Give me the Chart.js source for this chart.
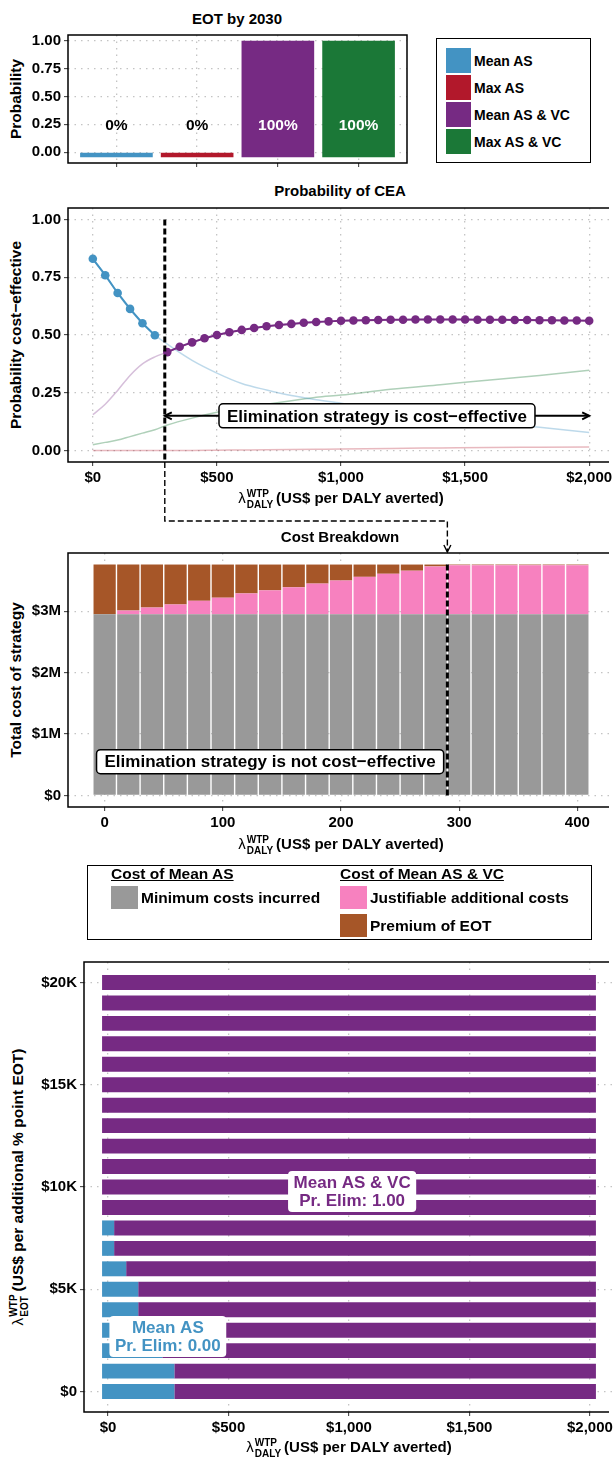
<!DOCTYPE html>
<html>
<head>
<meta charset="utf-8">
<title>EOT and CEA</title>
<script src="https://cdn.jsdelivr.net/npm/chart.js@4.4.1/dist/chart.umd.min.js"></script>
<style>
  html, body { margin: 0; padding: 0; background: #fff; overflow: hidden; }
  #page { position: relative; width: 613px; height: 1461px; overflow: hidden;
          font-family: 'Liberation Sans', Arial, sans-serif; font-weight: bold; color: #000; }
  #page canvas { position: absolute; left: 0; }
  #overlay { top: 0; pointer-events: none; z-index: 5; }
  .title { position: absolute; font-size: 15px; line-height: 18px; white-space: nowrap; transform: translate(-50%, -50%); }
  .ytitle { position: absolute; font-size: 15.5px; line-height: 18px; white-space: nowrap; transform: translate(-50%, -50%) rotate(-90deg); }
  .ss { display: inline-flex; flex-direction: column; font-size: 10px; line-height: 11px; vertical-align: middle; margin: 0 3px 0 1px; }
  .lam { font-weight: normal; }
  .box { position: absolute; border: 1.5px solid #000; box-sizing: border-box; }
  .sw { position: absolute; }
  .lg { position: absolute; white-space: nowrap; line-height: 18px; transform: translateY(-50%); }
  .u { text-decoration: underline; }
</style>
</head>
<body>
<div id="page">
  <div class="title" style="left:237px; top:19px">EOT by 2030</div>
  <div class="ytitle" style="left:16px; top:99px">Probability</div>
  <canvas id="eot-chart" width="420" height="175" style="top:0"></canvas>
  <div id="eot-legend"></div>

  <div class="title" style="left:340px; top:191px">Probability of CEA</div>
  <div class="ytitle" style="left:16px; top:335px">Probability cost−effective</div>
  <canvas id="cea-chart" width="640" height="345" style="top:175px"></canvas>
  <div class="title" style="left:341px; top:499px"><span class="lam">λ</span><span class="ss"><span>WTP</span><span>DALY</span></span>(US$ per DALY averted)</div>

  <div class="title" style="left:340px; top:537px">Cost Breakdown</div>
  <div class="ytitle" style="left:16px; top:680px">Total cost of strategy</div>
  <canvas id="cost-chart" width="640" height="340" style="top:520px"></canvas>
  <div class="title" style="left:341px; top:845px"><span class="lam">λ</span><span class="ss"><span>WTP</span><span>DALY</span></span>(US$ per DALY averted)</div>
  <div id="cost-legend"></div>

  <div class="ytitle" style="left:19px; top:1187px"><span class="lam">λ</span><span class="ss"><span>WTP</span><span>EOT</span></span>(US$ per additional % point EOT)</div>
  <canvas id="grid-chart" width="640" height="511" style="top:950px"></canvas>
  <div class="title" style="left:349px; top:1448px"><span class="lam">λ</span><span class="ss"><span>WTP</span><span>DALY</span></span>(US$ per DALY averted)</div>

  <canvas id="overlay" width="613" height="1461"></canvas>
</div>

<script>
// ---------- data ----------
const STRATEGIES = ['Mean AS', 'Max AS', 'Mean AS & VC', 'Max AS & VC'];
const STRATEGY_COLORS = ['#4393c3', '#b2182b', '#762a83', '#1b7837'];
const EOT_PROB = [0, 0, 1, 1];
const EOT_Y_TICKS = [0, 0.25, 0.5, 0.75, 1];
const EOT_Y_LABELS = ['0.00', '0.25', '0.50', '0.75', '1.00'];

// probability cost-effective, faint full curves
const CEA_WTP = [0, 50, 100, 150, 200, 250, 300, 400, 500, 600, 700, 800, 900, 1000, 1200, 1400, 1600, 1800, 2000];
const CEA_MEAN_AS = [0.83, 0.76, 0.68, 0.61, 0.55, 0.50, 0.46, 0.39, 0.335, 0.29, 0.262, 0.238, 0.22, 0.205, 0.17, 0.14, 0.12, 0.10, 0.078];
const CEA_MAX_AS = [0, 0, 0, 0, 0, 0, 0, 0, 0.001, 0.002, 0.003, 0.004, 0.005, 0.006, 0.009, 0.011, 0.013, 0.014, 0.015];
const CEA_MEAN_AS_VC = [0.155, 0.20, 0.26, 0.325, 0.375, 0.405, 0.426, 0.468, 0.50, 0.522, 0.538, 0.548, 0.556, 0.562, 0.566, 0.567, 0.566, 0.564, 0.562];
const CEA_MAX_AS_VC = [0.025, 0.035, 0.045, 0.06, 0.075, 0.09, 0.11, 0.14, 0.165, 0.185, 0.20, 0.215, 0.23, 0.24, 0.265, 0.285, 0.305, 0.325, 0.347];
// optimal strategy points
const OPT_AS_WTP = [0, 50, 100, 150, 200, 250];
const OPT_AS_PROB = [0.83, 0.759, 0.682, 0.613, 0.551, 0.499];
const OPT_VC_WTP = [300, 350, 400, 450, 500, 550, 600, 650, 700, 750, 800, 850, 900, 950, 1000, 1050, 1100, 1150,
  1200, 1250, 1300, 1350, 1400, 1450, 1500, 1550, 1600, 1650, 1700, 1750, 1800, 1850, 1900, 1950, 2000];
const OPT_VC_PROB = [0.426, 0.449, 0.468, 0.486, 0.500, 0.512, 0.522, 0.530, 0.538, 0.543, 0.548, 0.553, 0.556, 0.559,
  0.562, 0.563, 0.564, 0.565, 0.566, 0.566, 0.567, 0.567, 0.567, 0.567, 0.567, 0.566, 0.566, 0.566, 0.565, 0.565,
  0.564, 0.564, 0.563, 0.563, 0.562];
const WTP_TICKS = [0, 500, 1000, 1500, 2000];
const WTP_LABELS = ['$0', '$500', '$1,000', '$1,500', '$2,000'];
const PROB_TICKS = [0, 0.25, 0.5, 0.75, 1];
const PROB_LABELS = ['0.00', '0.25', '0.50', '0.75', '1.00'];
const THRESHOLD = 290;

// cost breakdown (US$ millions)
const COST_WTP = [0, 20, 40, 60, 80, 100, 120, 140, 160, 180, 200, 220, 240, 260, 280, 300, 320, 340, 360, 380, 400];
const COST_MINIMUM = [2.95, 2.95, 2.95, 2.95, 2.95, 2.95, 2.95, 2.95, 2.95, 2.95, 2.95, 2.95, 2.95, 2.95, 2.95, 2.95, 2.95, 2.95, 2.95, 2.95, 2.95];
const COST_JUSTIFIABLE = [0, 0.06, 0.11, 0.16, 0.22, 0.27, 0.34, 0.39, 0.44, 0.50, 0.55, 0.61, 0.66, 0.71, 0.78, 0.80, 0.80, 0.80, 0.80, 0.80, 0.80];
const COST_PREMIUM = [0.81, 0.75, 0.70, 0.65, 0.59, 0.54, 0.47, 0.42, 0.37, 0.31, 0.26, 0.20, 0.15, 0.10, 0.03, 0.01, 0.01, 0.01, 0.01, 0.01, 0.01];
const COST_X_TICKS = [0, 100, 200, 300, 400];
const COST_X_LABELS = ['0', '100', '200', '300', '400'];
const COST_Y_TICKS = [0, 1, 2, 3];
const COST_Y_LABELS = ['$0', '$1M', '$2M', '$3M'];
const COST_TOTAL = 3.76;
const COST_SERIES = ['Minimum costs incurred', 'Justifiable additional costs', 'Premium of EOT'];
const COST_COLORS = ['#999999', '#f781bf', '#a65628'];

// optimal strategy grid: highest lambda_DALY where Mean AS is still optimal (null = never)
const EOT_WTP_LEVELS = [0, 1000, 2000, 3000, 4000, 5000, 6000, 7000, 8000, 9000, 10000,
  11000, 12000, 13000, 14000, 15000, 16000, 17000, 18000, 19000, 20000];
const MEAN_AS_UP_TO = [250, 250, 200, 150, 100, 100, 50, 0, 0, null, null,
  null, null, null, null, null, null, null, null, null, null];
const EOT_WTP_TICKS = [0, 5000, 10000, 15000, 20000];
const EOT_WTP_LABELS = ['$0', '$5K', '$10K', '$15K', '$20K'];

// ---------- shared setup ----------
const FONT = "'Liberation Sans', Arial, sans-serif";
const GRID = '#c4c4c4';
const TILE_HALF = 25;
const WTP_MAX = 2000;
const VIEW_WIDTH = 613;

Chart.defaults.font.family = FONT;
Chart.defaults.font.size = 15;
Chart.defaults.font.weight = 'bold';
Chart.defaults.color = '#000';
Chart.defaults.animation = false;
Chart.defaults.responsive = false;
Chart.defaults.events = [];
Chart.defaults.plugins.legend.display = false;
Chart.defaults.plugins.tooltip.enabled = false;

// black panel frame like the ggplot border; the wide panels run off the cropped right edge
Chart.register({
    id: 'frame',
    afterDraw(chart) {
        const { ctx, chartArea: a, width } = chart;
        const openRight = width > VIEW_WIDTH;
        const right = openRight ? VIEW_WIDTH - 4 : a.right;
        ctx.save();
        ctx.lineWidth = 1.5;
        ctx.strokeStyle = '#000';
        ctx.beginPath();
        ctx.moveTo(right, a.top);
        ctx.lineTo(a.left, a.top);
        ctx.lineTo(a.left, a.bottom);
        ctx.lineTo(right, a.bottom);
        if (!openRight) ctx.closePath();
        ctx.stroke();
        ctx.restore();
    }
});

function linearAxis(min, max, ticks, labels, size, extra) {
    return Object.assign({
        type: 'linear',
        min: min,
        max: max,
        offset: false,
        afterBuildTicks: s => { s.ticks = ticks.map(v => ({ value: v })); },
        afterFit: s => { if (s.isHorizontal()) s.height = size; else s.width = size; },
        ticks: { autoSkip: false, maxRotation: 0, padding: 3, callback: (v, i) => labels ? labels[i] : '' },
        grid: { offset: false, color: GRID, lineWidth: 1.3, tickLength: 4, tickColor: '#333', tickWidth: 1 },
        border: { display: false, dash: [1.5, 5] }
    }, extra || {});
}

function labelBox(ctx, lines, cx, cy, o) {
    ctx.save();
    ctx.font = 'bold ' + o.size + 'px ' + FONT;
    const w = Math.max(...lines.map(l => ctx.measureText(l).width)) + o.padX * 2;
    const h = o.lineHeight * lines.length + o.padY * 2;
    ctx.beginPath();
    ctx.roundRect(cx - w / 2, cy - h / 2, w, h, 4);
    ctx.fillStyle = '#fff';
    ctx.fill();
    if (o.border) {
        ctx.lineWidth = 1.5;
        ctx.strokeStyle = '#000';
        ctx.stroke();
    }
    ctx.fillStyle = o.color;
    ctx.textAlign = 'center';
    ctx.textBaseline = 'middle';
    lines.forEach((l, i) => ctx.fillText(l, cx, cy - h / 2 + o.padY + o.lineHeight * (i + 0.5) + 1));
    ctx.restore();
}

function arrowHead(ctx, x, y, dx, dy) {
    // open chevron pointing along (dx, dy)
    ctx.beginPath();
    ctx.moveTo(x - dx * 7 - dy * 3.5, y - dy * 7 - dx * 3.5);
    ctx.lineTo(x, y);
    ctx.lineTo(x - dx * 7 + dy * 3.5, y - dy * 7 + dx * 3.5);
    ctx.stroke();
}

function dashedVLine(ctx, x, y1, y2) {
    ctx.save();
    ctx.strokeStyle = '#000';
    ctx.lineWidth = 3;
    ctx.setLineDash([6, 3]);
    ctx.beginPath();
    ctx.moveTo(x, y1);
    ctx.lineTo(x, y2);
    ctx.stroke();
    ctx.restore();
}

// ---------- EOT by 2030 ----------
const eotLabels = {
    id: 'eotLabels',
    afterDatasetsDraw(chart) {
        const { ctx, scales: { x, y } } = chart;
        ctx.save();
        ctx.font = 'bold 15.5px ' + FONT;
        ctx.textAlign = 'center';
        ctx.textBaseline = 'middle';
        EOT_PROB.forEach((p, i) => {
            ctx.fillStyle = p > 0.25 ? '#fff' : '#000';
            ctx.fillText(Math.round(p * 100) + '%', x.getPixelForValue(i + 1), y.getPixelForValue(0.25) + 1);
        });
        ctx.restore();
    }
};

const eotChart = new Chart(document.getElementById('eot-chart'), {
    type: 'bar',
    data: {
        datasets: [{
            data: EOT_PROB.map((p, i) => ({ x: i + 1, y: [-0.045, p] })),
            backgroundColor: STRATEGY_COLORS,
            borderWidth: 0,
            barPercentage: 0.9,
            categoryPercentage: 1
        }]
    },
    options: {
        layout: { padding: { top: 35, right: 13, left: 0, bottom: 0 } },
        scales: {
            x: linearAxis(0.4, 4.6, [1, 2, 3, 4], null, 12),
            y: linearAxis(-0.097, 1.052, EOT_Y_TICKS, EOT_Y_LABELS, 68)
        }
    },
    plugins: [eotLabels]
});

// legend for strategies
(function () {
    const host = document.getElementById('eot-legend');
    let html = '<div class="box" style="left:436px; top:38px; width:155px; height:125px"></div>';
    STRATEGIES.forEach((name, i) => {
        const top = 48 + i * 27;
        html += `<div class="sw" style="left:446px; top:${top}px; width:25px; height:25px; background:${STRATEGY_COLORS[i]}"></div>`;
        html += `<div class="lg" style="left:474px; top:${top + 12.5}px; font-size:14px">${name.replace('&', '&amp;')}</div>`;
    });
    host.innerHTML = html;
})();

// ---------- Probability of CEA ----------
const ceaNotes = {
    id: 'ceaNotes',
    afterDatasetsDraw(chart) {
        const { ctx, scales: { x, y }, chartArea } = chart;
        const tx = x.getPixelForValue(THRESHOLD);
        dashedVLine(ctx, tx, y.getPixelForValue(1), chartArea.bottom);
        const ay = y.getPixelForValue(0.15);
        const ax = x.getPixelForValue(WTP_MAX);
        ctx.save();
        ctx.strokeStyle = '#000';
        ctx.lineWidth = 2;
        ctx.beginPath();
        ctx.moveTo(tx, ay);
        ctx.lineTo(ax, ay);
        ctx.stroke();
        arrowHead(ctx, tx, ay, -1, 0);
        arrowHead(ctx, ax, ay, 1, 0);
        ctx.restore();
        labelBox(ctx, ['Elimination strategy is cost−effective'], (tx + ax) / 2, ay,
            { size: 17, lineHeight: 17, padX: 8, padY: 3.5, color: '#000', border: true });
    }
};

function faint(values, color) {
    return {
        data: CEA_WTP.map((w, i) => ({ x: w, y: values[i] })),
        borderColor: color, borderWidth: 1.5, pointRadius: 0,
        cubicInterpolationMode: 'monotone', fill: false
    };
}

const ceaChart = new Chart(document.getElementById('cea-chart'), {
    type: 'line',
    data: {
        datasets: [
            {
                data: OPT_AS_WTP.map((w, i) => ({ x: w, y: OPT_AS_PROB[i] })),
                borderColor: STRATEGY_COLORS[0], borderWidth: 2,
                pointRadius: 4.3, pointBorderWidth: 0, pointBackgroundColor: STRATEGY_COLORS[0], fill: false
            },
            {
                data: OPT_VC_WTP.map((w, i) => ({ x: w, y: OPT_VC_PROB[i] })),
                borderColor: STRATEGY_COLORS[2], borderWidth: 2,
                pointRadius: 4.3, pointBorderWidth: 0, pointBackgroundColor: STRATEGY_COLORS[2], fill: false
            },
            faint(CEA_MEAN_AS, 'rgba(67,147,195,0.35)'),
            faint(CEA_MAX_AS, 'rgba(178,24,43,0.3)'),
            faint(CEA_MEAN_AS_VC, 'rgba(118,42,131,0.3)'),
            faint(CEA_MAX_AS_VC, 'rgba(27,120,55,0.35)')
        ]
    },
    options: {
        layout: { padding: { top: 33, right: 26, left: 0, bottom: 0 } },
        scales: {
            x: linearAxis(-100, 2100, WTP_TICKS, WTP_LABELS, 58),
            y: linearAxis(-0.05, 1.05, PROB_TICKS, PROB_LABELS, 68)
        }
    },
    plugins: [ceaNotes]
});

// ---------- Cost breakdown ----------
const costNotes = {
    id: 'costNotes',
    afterDatasetsDraw(chart) {
        const { ctx, scales: { x, y } } = chart;
        dashedVLine(ctx, x.getPixelForValue(THRESHOLD), y.getPixelForValue(COST_TOTAL), y.getPixelForValue(0));
        labelBox(ctx, ['Elimination strategy is not cost−effective'], x.getPixelForValue(140), y.getPixelForValue(0.55),
            { size: 17, lineHeight: 17, padX: 8, padY: 3.5, color: '#000', border: true });
    }
};

const costSeries = [COST_MINIMUM, COST_JUSTIFIABLE, COST_PREMIUM];
const costChart = new Chart(document.getElementById('cost-chart'), {
    type: 'bar',
    data: {
        datasets: costSeries.map((vals, k) => ({
            label: COST_SERIES[k],
            data: COST_WTP.map((w, i) => ({ x: w, y: vals[i] })),
            backgroundColor: COST_COLORS[k],
            borderWidth: 0,
            barPercentage: 0.94,
            categoryPercentage: 1
        }))
    },
    options: {
        layout: { padding: { top: 33, right: 26, left: 0, bottom: 0 } },
        scales: {
            x: linearAxis(-31, 431, COST_X_TICKS, COST_X_LABELS, 53, { stacked: true }),
            y: linearAxis(-0.188, 3.948, COST_Y_TICKS, COST_Y_LABELS, 68, { stacked: true })
        }
    },
    plugins: [costNotes]
});

// legend for cost components
(function () {
    const host = document.getElementById('cost-legend');
    let html = '<div class="box" style="left:87px; top:865px; width:505px; height:75px"></div>';
    html += '<div class="lg u" style="left:111px; top:874px; font-size:15.5px">Cost of Mean AS</div>';
    html += '<div class="lg u" style="left:340px; top:874px; font-size:15.5px">Cost of Mean AS &amp; VC</div>';
    const spots = [[111, 886], [340, 886], [340, 914]];
    COST_SERIES.forEach((name, k) => {
        const [lx, ly] = spots[k];
        html += `<div class="sw" style="left:${lx}px; top:${ly}px; width:27px; height:23px; background:${COST_COLORS[k]}"></div>`;
        html += `<div class="lg" style="left:${lx + 30}px; top:${ly + 11.5}px; font-size:15.5px">${name}</div>`;
    });
    host.innerHTML = html;
})();

// ---------- optimal strategy grid ----------
const gridNotes = {
    id: 'gridNotes',
    afterDatasetsDraw(chart) {
        const { ctx, scales: { x, y } } = chart;
        labelBox(ctx, ['Mean AS & VC', 'Pr. Elim: 1.00'], x.getPixelForValue(1013), y.getPixelForValue(9780),
            { size: 17, lineHeight: 18, padX: 5.5, padY: 2.5, color: STRATEGY_COLORS[2], border: false });
        labelBox(ctx, ['Mean AS', 'Pr. Elim: 0.00'], x.getPixelForValue(248), y.getPixelForValue(2690),
            { size: 17, lineHeight: 18, padX: 5.5, padY: 2.5, color: STRATEGY_COLORS[0], border: false });
    }
};

const blueRows = [];
const purpleRows = [];
EOT_WTP_LEVELS.forEach((lvl, i) => {
    const edge = MEAN_AS_UP_TO[i];
    if (edge !== null) blueRows.push({ y: lvl, x: [-TILE_HALF, edge + TILE_HALF] });
    purpleRows.push({ y: lvl, x: [edge === null ? -TILE_HALF : edge + TILE_HALF, WTP_MAX + TILE_HALF] });
});

const gridChart = new Chart(document.getElementById('grid-chart'), {
    type: 'bar',
    data: {
        datasets: [
            { label: 'Mean AS', data: blueRows, backgroundColor: STRATEGY_COLORS[0] },
            { label: 'Mean AS & VC', data: purpleRows, backgroundColor: STRATEGY_COLORS[2] }
        ]
    },
    options: {
        indexAxis: 'y',
        datasets: { bar: { grouped: false, borderWidth: 0, barPercentage: 0.73, categoryPercentage: 1 } },
        layout: { padding: { top: 12, right: 26, left: 0, bottom: 0 } },
        scales: {
            x: linearAxis(-100, 2100, WTP_TICKS, WTP_LABELS, 49),
            y: linearAxis(-1000, 21000, EOT_WTP_TICKS, EOT_WTP_LABELS, 84)
        }
    },
    plugins: [gridNotes]
});

// ---------- connector from CEA threshold to cost breakdown ----------
(function () {
    const ctx = document.getElementById('overlay').getContext('2d');
    const ceaTop = 175, costTop = 520, elbowY = 521;
    const x1 = ceaChart.scales.x.getPixelForValue(THRESHOLD);
    const y1 = ceaTop + ceaChart.chartArea.bottom;
    const x2 = costChart.scales.x.getPixelForValue(THRESHOLD);
    const y2 = costTop + costChart.chartArea.top - 1;
    ctx.strokeStyle = '#000';
    ctx.lineWidth = 1.4;
    ctx.setLineDash([6, 3]);
    ctx.beginPath();
    ctx.moveTo(x1, y1);
    ctx.lineTo(x1, elbowY);
    ctx.lineTo(x2, elbowY);
    ctx.lineTo(x2, y2);
    ctx.stroke();
    ctx.setLineDash([]);
    arrowHead(ctx, x2, y2, 0, 1);
})();
</script>
</body>
</html>
